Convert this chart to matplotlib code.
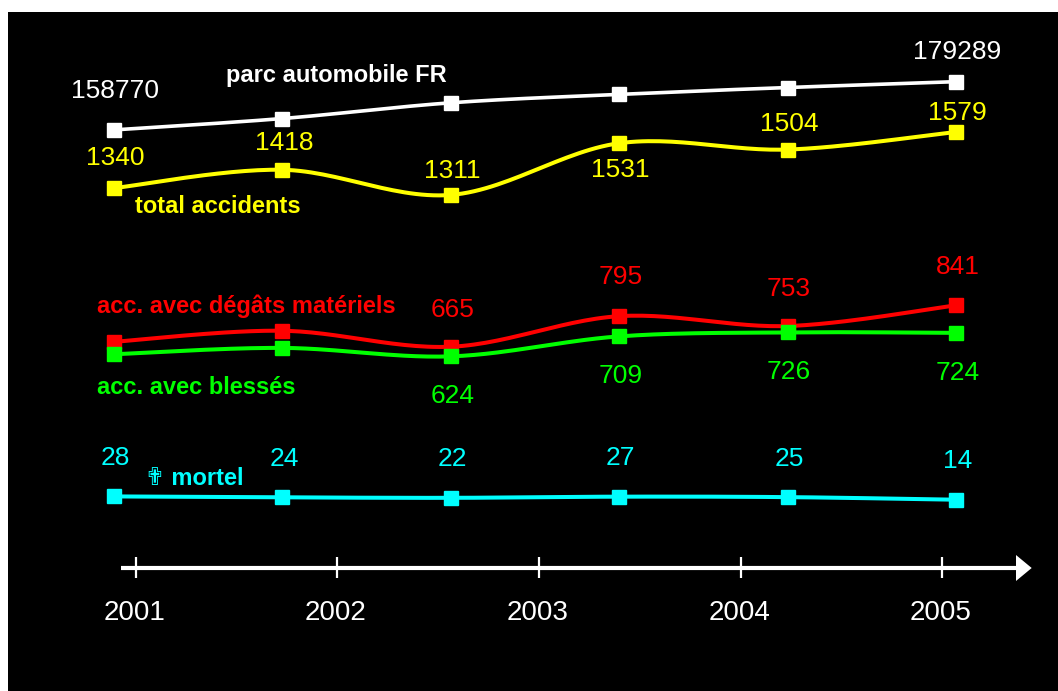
import numpy as np
import matplotlib
matplotlib.use("Agg")
import matplotlib.pyplot as plt
from matplotlib.patches import Rectangle, Polygon

# ---------------- data ----------------
years = [2001, 2002, 2003, 2004, 2005]
n_points = 6
parc = [158770, 163600, 170300, 173900, 176800, 179289]     # vehicles
total = [1340, 1418, 1311, 1531, 1504, 1579]
degats = [686, 733, 665, 795, 753, 841]
blesses = [633, 660, 624, 709, 726, 724]
mortel = [28, 24, 22, 27, 25, 14]

parc_shown = [0, 5]
total_shown = [0, 1, 2, 3, 4, 5]
degats_shown = [2, 3, 4, 5]
blesses_shown = [2, 3, 4, 5]
mortel_shown = [0, 1, 2, 3, 4, 5]

# ---------------- style ----------------
W, H = 1058, 691
FONT = "Liberation Sans"
plt.rcParams["font.family"] = [FONT, "DejaVu Sans"]

C_WHITE = "#FFFFFF"
C_YELLOW = "#FFFF00"
C_RED = "#FF0000"
C_GREEN = "#00FF00"
C_CYAN = "#00FFFF"

fig = plt.figure(figsize=(W / 100, H / 100), dpi=100)
fig.patch.set_facecolor("white")
fig.add_artist(Rectangle((8 / W, 0), (W - 8) / W, (H - 12) / H,
                         transform=fig.transFigure, facecolor="black",
                         edgecolor="none", zorder=0))


def fpx(x, y):
    return x / W, 1 - y / H


# main axes: x = point index, y = common value scale (parc in hundreds)
ax = fig.add_axes([0, 0, 1, 1])
ax.set_axis_off()
ax.patch.set_alpha(0)
x0_px, dx_px = 114.0, 168.4
ax.set_xlim(-x0_px / dx_px, (W - x0_px) / dx_px)
s = 0.235          # px per unit
ref_v, ref_px = 1340, 188.1
ax.set_ylim(ref_v - (H - ref_px) / s, ref_v + ref_px / s)


def smooth(xs, ys, n=30):
    P = np.column_stack([xs, ys]).astype(float)
    out = [P[0]]
    m = len(P)
    for i in range(m - 1):
        p0 = P[i - 1] if i > 0 else P[i]
        p1, p2 = P[i], P[i + 1]
        p3 = P[i + 2] if i + 2 < m else P[i + 1]
        c1 = p1 + (p2 - p0) / 6
        c2 = p2 - (p3 - p1) / 6
        t = np.linspace(0, 1, n)[1:, None]
        seg = ((1 - t) ** 3) * p1 + 3 * ((1 - t) ** 2) * t * c1 + 3 * (1 - t) * t ** 2 * c2 + t ** 3 * p2
        out.extend(seg)
    out = np.array(out)
    return out[:, 0], out[:, 1]


xs = np.arange(n_points)


def draw(vals, color, z, lw=2.9):
    sx, sy = smooth(xs, vals)
    ax.plot(sx, sy, color=color, lw=lw, zorder=z, solid_capstyle="butt")
    ax.plot(xs, vals, ls="none", marker="s", ms=9.5, color=color,
            mec=color, zorder=z + 0.5, clip_on=False)


parc_h = [p / 100 for p in parc]
draw(parc_h, C_WHITE, 3, lw=2.6)
draw(total, C_YELLOW, 4)
draw(degats, C_RED, 5)
draw(blesses, C_GREEN, 6)
draw(mortel, C_CYAN, 7)


def labels(vals, plotted, shown, dys, color, dx=1.5):
    for k, i in enumerate(shown):
        dy = dys[k] if isinstance(dys, (list, tuple)) else dys
        ax.annotate(f"{vals[i]}", (xs[i], plotted[i]), xytext=(dx, dy),
                    textcoords="offset pixels", ha="center", va="baseline",
                    color=color, fontsize=19, zorder=10)


labels(parc, parc_h, parc_shown, [32, 23], C_WHITE)
labels(total, total, total_shown, [23, 19.5, 17, -34, 19, 12], C_YELLOW)
labels(degats, degats, degats_shown, [30, 32.5, 30.5, 31.5], C_RED)
labels(blesses, blesses, blesses_shown, -47, C_GREEN)
labels(mortel, mortel, mortel_shown, 31.5, C_CYAN)

# series names
def name(x, y, txt, color):
    fig.text(*fpx(x, y), txt, color=color, fontsize=17, fontweight="bold",
             ha="left", va="baseline", family=[FONT, "DejaVu Sans"], zorder=10)


name(226, 82, "parc automobile FR", C_WHITE)
name(135, 213, "total accidents", C_YELLOW)
name(97, 313, "acc. avec dégâts matériels", C_RED)
name(97, 394, "acc. avec blessés", C_GREEN)
name(145, 485, "\u271F mortel", C_CYAN)

# time axis (years), y in pixels from top
ax2 = fig.add_axes([0, 0, 1, 1])
ax2.set_axis_off()
ax2.patch.set_alpha(0)
k = 201.65
t0 = 135.7
ax2.set_xlim(years[0] - t0 / k, years[0] + (W - t0) / k)
ax2.set_ylim(H, 0)


def yr(px):
    return years[0] + (px - t0) / k


ax2.plot([yr(121), yr(1018)], [568, 568], color=C_WHITE, lw=3, solid_capstyle="butt")
ax2.add_patch(Polygon([[yr(1016), 555], [yr(1031.7), 568], [yr(1016), 581]],
                      closed=True, facecolor=C_WHITE, edgecolor="none"))
ax2.vlines(years, 557, 578, color=C_WHITE, lw=1.6)
for y in years:
    ax2.text(y - 1.5 / k, 620, str(y), ha="center", va="baseline",
             color=C_WHITE, fontsize=20)

fig.savefig("out.png", dpi=100, facecolor=fig.get_facecolor())
